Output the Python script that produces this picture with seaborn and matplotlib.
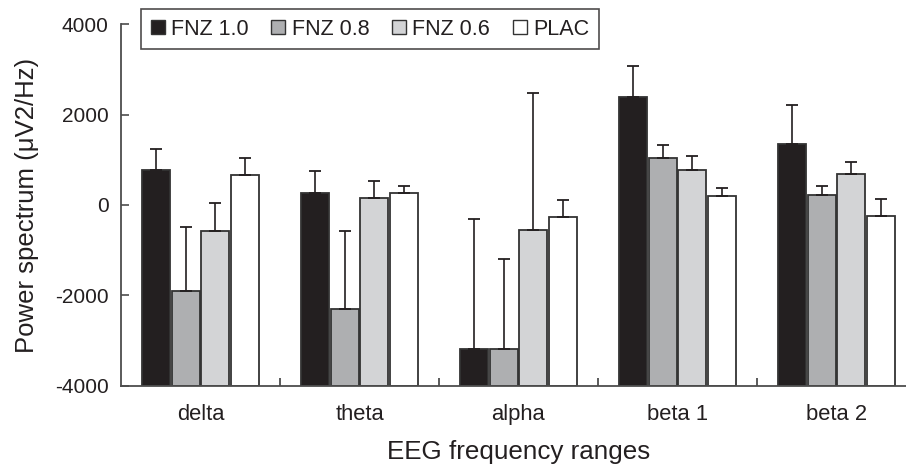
import numpy as np
import pandas as pd
import seaborn as sns
import matplotlib
matplotlib.use("Agg")
import matplotlib.pyplot as plt
from matplotlib.patches import Patch

# ---- data ----
ranges = ["delta", "theta", "alpha", "beta 1", "beta 2"]
groups = ["FNZ 1.0", "FNZ 0.8", "FNZ 0.6", "PLAC"]

fnz10 = [770, 260, -3190, 2400, 1360]
fnz08 = [-1900, -2310, -3180, 1040, 230]
fnz06 = [-580, 150, -550, 780, 690]
plac = [665, 260, -260, 205, -240]

fnz10_err = [470, 490, 2870, 670, 860]
fnz08_err = [1410, 1730, 1980, 290, 200]
fnz06_err = [630, 375, 3030, 310, 260]
plac_err = [375, 170, 370, 180, 380]

colors = ["#231f20", "#aeafb1", "#d3d4d6", "#ffffff"]
ytick_vals = [-4000, -2000, 0, 2000, 4000]

values = [fnz10, fnz08, fnz06, plac]
errors = [fnz10_err, fnz08_err, fnz06_err, plac_err]

rows = []
for g, vals, errs in zip(groups, values, errors):
    for r, v, e in zip(ranges, vals, errs):
        rows.append({"range": r, "group": g, "value": v, "err": e})
df = pd.DataFrame(rows)

# ---- styling ----
sns.set_style("white")
plt.rcParams["font.family"] = ["Liberation Sans", "DejaVu Sans"]
txt = "#231f20"

W, H = 906, 471
fig = plt.figure(figsize=(W / 100, H / 100), dpi=100)
ax = fig.add_axes([121 / W, 1 - 385.7 / H, 795 / W, 361.4 / H])

sns.barplot(data=df, x="range", y="value", hue="group", order=ranges,
            hue_order=groups, palette=colors, width=0.74, gap=0.04,
            errorbar=None, legend=False, edgecolor="#333333",
            linewidth=1.3, ax=ax, saturation=1)

ymin = ytick_vals[0]
for container, g in zip(ax.containers, groups):
    sub = df[df["group"] == g].set_index("range").loc[ranges]
    for patch, err in zip(container.patches, sub["err"]):
        val = patch.get_y() + patch.get_height()
        patch.set_y(ymin)
        patch.set_height(val - ymin)
        xc = patch.get_x() + patch.get_width() / 2
        ax.errorbar(xc, val, yerr=[[0], [err]], fmt="none", ecolor=txt,
                    elinewidth=1.2, capsize=4, capthick=1.3, zorder=1)

ax.set_ylim(ytick_vals[0], ytick_vals[-1])
ax.set_xlim(-0.5, len(ranges) - 0.5)
ax.set_yticks(ytick_vals)
ax.set_yticklabels([str(v) for v in ytick_vals])
ax.set_xticks(range(len(ranges)))
ax.set_xticklabels(ranges)
ax.set_xticks(np.arange(0.5, len(ranges) - 0.5, 1.0), minor=True)

ax.tick_params(axis="x", which="major", length=0, labelsize=15.8, colors=txt, pad=13)
ax.tick_params(axis="x", which="minor", length=6, width=1.3, direction="in",
               color="#4d4d4d", bottom=True)
ax.tick_params(axis="y", which="major", length=6, width=1.2, direction="in",
               color="#4d4d4d", labelsize=15, labelcolor=txt, pad=9, left=True)

for s in ["top", "right"]:
    ax.spines[s].set_visible(False)
for s in ["left", "bottom"]:
    ax.spines[s].set_color("#4d4d4d")
    ax.spines[s].set_linewidth(1.3)

ax.set_xlabel("EEG frequency ranges", fontsize=18.7, color=txt, labelpad=11)
ax.set_ylabel("Power spectrum (\u03bcV2/Hz)", fontsize=18.5, color=txt, labelpad=11)

handles = [Patch(facecolor=c, edgecolor="#333333", linewidth=1.0, label=g)
           for c, g in zip(colors, groups)]
leg = fig.legend(handles=handles, loc="upper left",
                 bbox_to_anchor=(141 / W, 1 - 9 / H), ncol=4, frameon=True,
                 fancybox=False, fontsize=15.5, handlelength=0.65,
                 handleheight=0.65, handletextpad=0.3, columnspacing=1.05,
                 borderpad=0.45, borderaxespad=0)
leg.get_frame().set_edgecolor(txt)
leg.get_frame().set_linewidth(1.2)
for t in leg.get_texts():
    t.set_color(txt)

fig.savefig("out.png", dpi=100)
